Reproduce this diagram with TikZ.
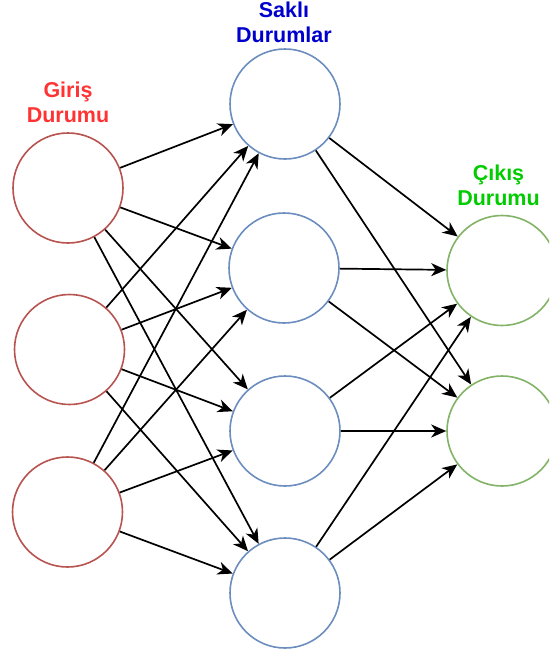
\documentclass[tikz,border=0pt]{standalone}
\usepackage{fontspec}
\setmainfont{Liberation Sans}
\usetikzlibrary{arrows.meta}

\definecolor{inred}{HTML}{B85450}
\definecolor{hidblue}{HTML}{6C8EBF}
\definecolor{outgreen}{HTML}{82B366}
\definecolor{labred}{HTML}{FF3333}
\definecolor{labblue}{HTML}{0000CC}
\definecolor{labgreen}{HTML}{00CC00}

\tikzset{
  neuron/.style={circle, draw, line width=1.6pt, minimum size=110pt, inner sep=0pt, fill=white},
  innode/.style={neuron, draw=inred},
  hidnode/.style={neuron, draw=hidblue},
  outnode/.style={neuron, draw=outgreen},
  layerlabel/.style={align=center, font=\fontsize{21.5}{25.5}\selectfont\bfseries},
  conn/.style={line width=1.7pt, black, -{Stealth[length=15pt, width=13pt, inset=4.5pt]}}
}

\begin{document}
\begin{tikzpicture}[x=1pt, y=-1pt]
  \useasboundingbox (0,0) rectangle (549,656);
  \clip (0,0) rectangle (549,656);

  % layer titles
  \node[layerlabel, text=labred]   (tin)  at (68,102.5)  {Giriş\\Durumu};
  \node[layerlabel, text=labblue]  (thid) at (284,22.5)  {Saklı\\Durumlar};
  \node[layerlabel, text=labgreen] (tout) at (498.5,185.5) {Çıkış\\Durumu};

  % input layer
  \node[innode] (i1) at (68,188) {};
  \node[innode] (i2) at (69.5,349.5) {};
  \node[innode] (i3) at (67.5,512) {};

  % hidden layer
  \node[hidnode] (h1) at (285,104) {};
  \node[hidnode] (h2) at (284,268) {};
  \node[hidnode] (h3) at (285,431) {};
  \node[hidnode] (h4) at (285,593) {};

  % output layer
  \node[outnode] (o1) at (502,270.5) {};
  \node[outnode] (o2) at (502,431) {};

  % input -> hidden
  \foreach \i in {1,2,3}{
    \foreach \h in {1,2,3,4}{
      \draw[conn] (i\i) -- (h\h);
    }
  }

  % hidden -> output
  \foreach \h in {1,2,3,4}{
    \foreach \o in {1,2}{
      \draw[conn] (h\h) -- (o\o);
    }
  }
\end{tikzpicture}
\end{document}
